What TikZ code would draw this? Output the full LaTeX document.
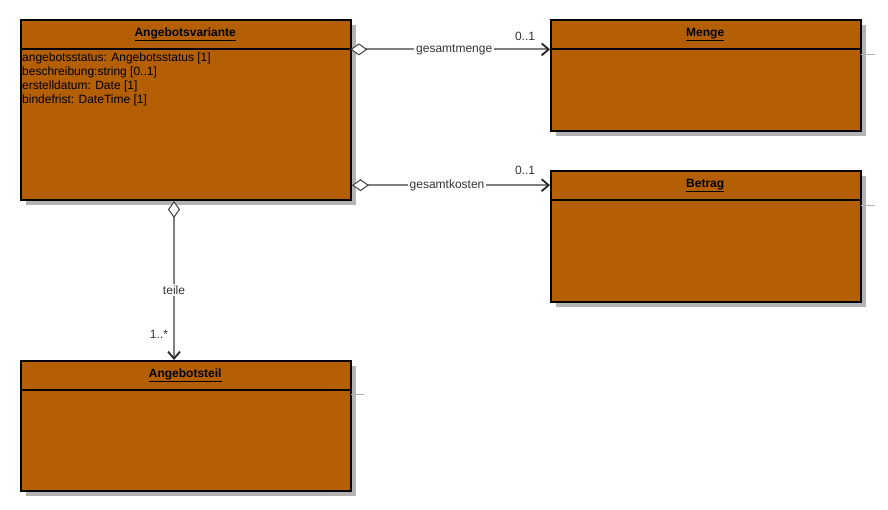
\documentclass[tikz,border=0pt]{standalone}
\usepackage{fontspec}
\setmainfont{Liberation Sans}
\usetikzlibrary{arrows.meta,calc,shadows}
\definecolor{cls}{RGB}{180,95,4}
\definecolor{shd}{RGB}{179,179,179}
\definecolor{conn}{RGB}{128,128,128}
\definecolor{txt}{RGB}{51,51,51}
\begin{document}
\begin{tikzpicture}[x=1pt,y=-1pt,
  classbox/.style={draw=black, line width=2pt, fill=cls, rectangle, inner sep=0pt, anchor=north west,
    drop shadow={shadow xshift=5pt, shadow yshift=-5pt, fill=shd, opacity=1}},
  hdr/.style={rectangle, inner sep=0pt, anchor=north west, minimum height=30pt,
    font=\fontsize{12pt}{14pt}\selectfont\bfseries},
  sep/.style={draw=black, line width=2pt},
  sepshadow/.style={draw=shd, line width=1pt},
  attr/.style={inner sep=0pt, anchor=north west, align=left, font=\fontsize{12pt}{14pt}\selectfont},
  assoc/.style={draw=conn, line width=2pt,
    {Diamond[open, fill=white, color=black!75, line width=1pt, length=17pt, width=12pt]}-{Straight Barb[color=black!85, line width=1.8pt, length=7pt, width=12pt]}},
  lbl/.style={fill=white, inner sep=2pt, text=txt, font=\fontsize{12pt}{14pt}\selectfont},
  mult/.style={inner sep=0pt, text=txt, font=\fontsize{12pt}{14pt}\selectfont}]
\useasboundingbox (0,0) rectangle (888,510);

% Angebotsvariante
\node[classbox, minimum width=330pt, minimum height=180pt] (av) at (20,19) {};
\node[hdr, minimum width=330pt] (avh) at (av.north west) {\underline{Angebotsvariante}};
\draw[sep] (avh.south west) -- (avh.south east);
\node[attr] (ava) at ($(avh.south west)+(2,3)$) {angebotsstatus: Angebotsstatus [1]\\beschreibung:string [0..1]\\erstelldatum: Date [1]\\bindefrist: DateTime [1]};

% Menge
\node[classbox, minimum width=310pt, minimum height=111pt] (m) at (550,19) {};
\node[hdr, minimum width=310pt] (mh) at (m.north west) {\underline{Menge}};
\draw[sepshadow] ($(mh.south east)+(1,5)$) -- ++(14,0);
\draw[sep] (mh.south west) -- (mh.south east);

% Betrag
\node[classbox, minimum width=310pt, minimum height=131pt] (b) at (550,170) {};
\node[hdr, minimum width=310pt] (bh) at (b.north west) {\underline{Betrag}};
\draw[sepshadow] ($(bh.south east)+(1,5)$) -- ++(14,0);
\draw[sep] (bh.south west) -- (bh.south east);

% Angebotsteil
\node[classbox, minimum width=330pt, minimum height=130pt] (teil) at (20,360) {};
\node[hdr, minimum width=330pt] (teilh) at (teil.north west) {\underline{Angebotsteil}};
\draw[sepshadow] ($(teilh.south east)+(1,4)$) -- ++(13,0);
\draw[sep] (teilh.south west) -- (teilh.south east);

% connectors
\draw[assoc] (avh.south east) -- node[lbl, pos=.52] (l1) {gesamtmenge} (mh.south west);
\node[mult] (m1) at (525,36) {0..1};

\draw[assoc] (bh.west -| av.east) -- node[lbl, pos=.48] (l2) {gesamtkosten} (bh.west);
\node[mult] (m2) at (525,170) {0..1};

\coordinate (ts) at ($(av.south)+(-12,0)$);
\draw[assoc] (ts) -- node[lbl, pos=.56] (l3) {teile} (teilh.north -| ts);
\node[mult] (m3) at (159,334) {1..*};
\end{tikzpicture}
\end{document}
